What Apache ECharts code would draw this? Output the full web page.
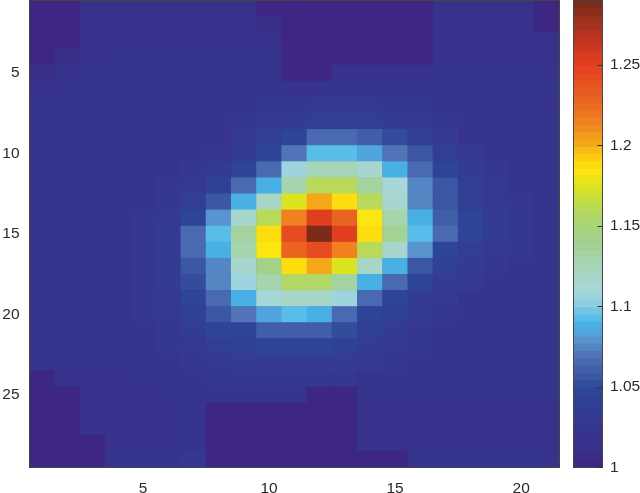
<!DOCTYPE html>
<html>
<head>
<meta charset="utf-8">
<style>
  html, body { margin: 0; padding: 0; background: #fff; }
  #chart { width: 640px; height: 493px; }
</style>
<script src="https://cdn.jsdelivr.net/npm/echarts@6/dist/echarts.min.js"></script>
</head>
<body>
<div id="chart"></div>
<script>
const columns = ["1","2","3","4","5","6","7","8","9","10","11","12","13","14","15","16","17","18","19","20","21"];
const rows = ["1","2","3","4","5","6","7","8","9","10","11","12","13","14","15","16","17","18","19","20","21","22","23","24","25","26","27","28","29"];
const xTickLabels = ["5","10","15","20"];
const yTickLabels = ["5","10","15","20","25"];
const colorbarTicks = [1, 1.05, 1.1, 1.15, 1.2, 1.25];

// one line per image row, top to bottom
const cellValues = [
  [1.002,1.002,1.015,1.015,1.015,1.015,1.015,1.015,1.015,1.004,1.002,1.002,1.002,1.002,1.002,1.002,1.015,1.015,1.015,1.015,1.002],
  [1.002,1.002,1.016,1.016,1.016,1.016,1.016,1.016,1.016,1.012,1.002,1.002,1.002,1.002,1.002,1.002,1.016,1.016,1.016,1.016,1.002],
  [1.002,1.002,1.018,1.018,1.018,1.018,1.018,1.018,1.018,1.018,1.002,1.002,1.002,1.002,1.002,1.002,1.018,1.018,1.018,1.018,1.015],
  [1.002,1.012,1.018,1.020,1.020,1.020,1.020,1.020,1.020,1.020,1.002,1.002,1.002,1.002,1.002,1.002,1.018,1.018,1.018,1.018,1.018],
  [1.012,1.018,1.020,1.020,1.020,1.020,1.020,1.020,1.020,1.020,1.002,1.002,1.020,1.020,1.020,1.020,1.020,1.020,1.020,1.020,1.020],
  [1.018,1.020,1.020,1.020,1.020,1.020,1.020,1.020,1.020,1.020,1.022,1.022,1.022,1.022,1.022,1.022,1.022,1.020,1.020,1.020,1.020],
  [1.020,1.020,1.020,1.020,1.020,1.020,1.020,1.020,1.020,1.024,1.026,1.028,1.028,1.028,1.026,1.024,1.022,1.020,1.020,1.020,1.020],
  [1.022,1.022,1.022,1.022,1.022,1.022,1.022,1.022,1.025,1.030,1.035,1.040,1.040,1.040,1.036,1.030,1.026,1.022,1.022,1.022,1.022],
  [1.022,1.022,1.022,1.022,1.022,1.022,1.022,1.022,1.028,1.038,1.050,1.065,1.068,1.062,1.052,1.040,1.030,1.022,1.022,1.022,1.022],
  [1.022,1.022,1.022,1.022,1.022,1.022,1.022,1.026,1.036,1.050,1.070,1.093,1.093,1.083,1.072,1.055,1.038,1.028,1.022,1.022,1.022],
  [1.022,1.022,1.022,1.022,1.022,1.022,1.025,1.034,1.048,1.068,1.108,1.125,1.125,1.115,1.088,1.068,1.050,1.034,1.026,1.022,1.022],
  [1.022,1.022,1.022,1.022,1.022,1.024,1.030,1.045,1.065,1.090,1.130,1.160,1.160,1.135,1.110,1.075,1.055,1.038,1.028,1.022,1.022],
  [1.022,1.022,1.022,1.022,1.022,1.026,1.038,1.055,1.088,1.120,1.175,1.200,1.190,1.160,1.115,1.077,1.056,1.040,1.030,1.024,1.022],
  [1.022,1.022,1.022,1.022,1.024,1.030,1.050,1.080,1.117,1.162,1.215,1.250,1.230,1.185,1.130,1.088,1.062,1.048,1.032,1.025,1.022],
  [1.022,1.022,1.022,1.022,1.026,1.036,1.065,1.092,1.135,1.190,1.245,1.288,1.250,1.190,1.140,1.092,1.065,1.050,1.034,1.026,1.022],
  [1.022,1.022,1.022,1.022,1.026,1.036,1.065,1.090,1.130,1.185,1.230,1.245,1.215,1.162,1.117,1.078,1.050,1.040,1.030,1.024,1.022],
  [1.022,1.022,1.022,1.022,1.024,1.034,1.055,1.077,1.115,1.145,1.190,1.200,1.175,1.120,1.088,1.055,1.045,1.034,1.026,1.022,1.022],
  [1.022,1.022,1.022,1.022,1.024,1.032,1.052,1.073,1.107,1.128,1.158,1.158,1.135,1.090,1.065,1.047,1.036,1.028,1.022,1.022,1.022],
  [1.022,1.022,1.022,1.022,1.024,1.030,1.050,1.068,1.088,1.110,1.122,1.122,1.107,1.068,1.048,1.036,1.028,1.022,1.022,1.022,1.022],
  [1.022,1.022,1.022,1.022,1.024,1.028,1.045,1.057,1.072,1.083,1.092,1.089,1.068,1.050,1.044,1.032,1.025,1.022,1.022,1.022,1.022],
  [1.022,1.022,1.022,1.022,1.022,1.026,1.036,1.047,1.050,1.060,1.062,1.062,1.052,1.045,1.034,1.026,1.022,1.022,1.022,1.022,1.022],
  [1.022,1.022,1.022,1.022,1.022,1.024,1.030,1.038,1.044,1.047,1.047,1.047,1.044,1.036,1.028,1.024,1.022,1.022,1.022,1.022,1.022],
  [1.022,1.022,1.022,1.022,1.022,1.022,1.026,1.030,1.036,1.036,1.036,1.036,1.036,1.030,1.024,1.022,1.020,1.020,1.020,1.020,1.020],
  [1.002,1.016,1.016,1.018,1.020,1.020,1.020,1.026,1.026,1.026,1.026,1.026,1.026,1.022,1.022,1.020,1.020,1.020,1.020,1.020,1.020],
  [1.002,1.002,1.016,1.018,1.018,1.020,1.020,1.020,1.020,1.020,1.020,1.002,1.002,1.020,1.020,1.020,1.020,1.020,1.020,1.020,1.020],
  [1.002,1.002,1.016,1.018,1.018,1.018,1.020,1.002,1.002,1.002,1.002,1.002,1.002,1.018,1.018,1.018,1.018,1.018,1.018,1.018,1.018],
  [1.002,1.002,1.016,1.018,1.018,1.018,1.020,1.002,1.002,1.002,1.002,1.002,1.002,1.018,1.018,1.018,1.018,1.018,1.018,1.018,1.018],
  [1.002,1.002,1.002,1.018,1.018,1.018,1.022,1.002,1.002,1.002,1.002,1.002,1.002,1.018,1.018,1.018,1.018,1.018,1.018,1.018,1.018],
  [1.002,1.002,1.002,1.020,1.020,1.020,1.024,1.002,1.002,1.002,1.002,1.002,1.002,1.002,1.002,1.020,1.020,1.020,1.020,1.020,1.020],
];

// colorbar steps, bottom to top
const colorbarLevels = [
  1.002,1.007,1.011,1.016,1.020,1.025,1.029,1.034,1.038,1.043,1.048,1.052,1.057,1.061,1.066,1.070,
  1.075,1.079,1.084,1.088,1.093,1.097,1.102,1.107,1.111,1.116,1.120,1.125,1.129,1.134,1.138,1.143,
  1.147,1.152,1.156,1.161,1.166,1.170,1.175,1.179,1.184,1.188,1.193,1.197,1.202,1.206,1.211,1.215,
  1.220,1.225,1.229,1.234,1.238,1.243,1.247,1.252,1.256,1.261,1.265,1.270,1.275,1.279,1.284,1.288,
];

const rampStops = [
  [1.000, "#3e2682"], [1.006, "#3d2a84"], [1.012, "#38308a"], [1.030, "#353a91"],
  [1.048, "#2e4497"], [1.060, "#3f5ca6"], [1.070, "#5074b6"], [1.080, "#5a98d2"],
  [1.090, "#45b6ea"], [1.100, "#86cde2"], [1.110, "#a8d7dc"], [1.125, "#a6d5b8"],
  [1.145, "#a2d182"], [1.160, "#b6d95c"], [1.175, "#dce31f"], [1.185, "#ffe60f"],
  [1.192, "#fdd010"], [1.202, "#f5a718"], [1.215, "#f08020"], [1.232, "#e85e20"],
  [1.250, "#e63f20"], [1.268, "#bb3220"], [1.280, "#98301b"], [1.290, "#762a18"],
];

const hexToRgb = (hex) => [1, 3, 5].map((i) => parseInt(hex.slice(i, i + 2), 16));

const colorAt = (value) => {
  let i = 0;
  while (i < rampStops.length - 2 && value > rampStops[i + 1][0]) i++;
  const [v0, c0] = rampStops[i];
  const [v1, c1] = rampStops[i + 1];
  const t = (value - v0) / (v1 - v0);
  const a = hexToRgb(c0);
  const b = hexToRgb(c1);
  return `rgb(${a.map((x, k) => Math.round(x + (b[k] - x) * t)).join(",")})`;
};

const pieces = colorbarLevels.map((level, i) => ({
  min: i === 0 ? 0.9 : (colorbarLevels[i - 1] + level) / 2,
  max: i === colorbarLevels.length - 1 ? 1.4 : (level + colorbarLevels[i + 1]) / 2,
  color: colorAt(level),
}));

const heatData = [];
cellValues.forEach((line, r) => line.forEach((v, c) => heatData.push([c, r, v])));
const colorbarData = colorbarLevels.map((level, i) => [0, i, level]);

const textColor = "#2a2a2a";
const labelSize = 15.5;
const frame = { lineStyle: { color: "#444", width: 1 } };
const tick = { inside: true, length: 5, alignWithLabel: true, lineStyle: { color: "#333", width: 1 } };
const showX = (i) => xTickLabels.includes(columns[i]);
const showY = (i) => yTickLabels.includes(rows[i]);

const chart = echarts.init(document.getElementById("chart"), null, { renderer: "canvas" });
chart.setOption({
  animation: false,
  backgroundColor: "#fff",
  textStyle: { fontFamily: "Liberation Sans" },
  // dark backing so the hairlines between cells don't show up white
  // outerBoundsMode none: otherwise echarts shrinks the grid to keep the labels on the canvas
  grid: [
    { left: 29.5, top: 0.5, width: 529.5, height: 467, outerBoundsMode: "none", show: true, backgroundColor: "#36378f", borderWidth: 0 },
    { left: 573.5, top: 0.5, width: 29, height: 467, outerBoundsMode: "none", show: true, backgroundColor: "#5a7ab8", borderWidth: 0 },
  ],
  xAxis: [
    {
      type: "category", gridIndex: 0, data: columns, position: "bottom", z: 5,
      axisLine: frame,
      axisTick: { ...tick, interval: showX },
      axisLabel: { interval: showX, color: textColor, fontSize: labelSize, margin: 13 },
    },
    {
      type: "category", gridIndex: 0, data: columns, position: "top", z: 5,
      axisLine: frame,
      axisTick: { ...tick, interval: showX },
      axisLabel: { show: false },
    },
    {
      type: "category", gridIndex: 1, data: [""], position: "bottom", z: 5,
      axisLine: frame, axisTick: { show: false }, axisLabel: { show: false },
    },
    {
      type: "category", gridIndex: 1, data: [""], position: "top", z: 5,
      axisLine: frame, axisTick: { show: false }, axisLabel: { show: false },
    },
  ],
  yAxis: [
    {
      type: "category", gridIndex: 0, data: rows, inverse: true, position: "left", z: 5,
      axisLine: frame,
      axisTick: { ...tick, interval: showY },
      axisLabel: { interval: showY, color: textColor, fontSize: labelSize, margin: 10, padding: [4, 0, 0, 0] },
    },
    {
      type: "category", gridIndex: 0, data: rows, inverse: true, position: "right", z: 5,
      axisLine: frame,
      axisTick: { ...tick, interval: showY },
      axisLabel: { show: false },
    },
    {
      type: "category", gridIndex: 1, data: colorbarLevels.map(String), position: "left", z: 5,
      axisLine: frame, axisTick: { show: false }, axisLabel: { show: false },
    },
    {
      type: "value", gridIndex: 1, min: 1, max: 1.29, position: "right", z: 5,
      splitLine: { show: false },
      axisLine: { show: true, ...frame },
      axisTick: { show: true, inside: true, length: 5, customValues: colorbarTicks, lineStyle: { color: "#333", width: 1 } },
      axisLabel: { customValues: colorbarTicks, color: textColor, fontSize: labelSize, margin: 7.5, padding: [4, 0, 0, 0], formatter: (v) => String(v) },
    },
  ],
  visualMap: {
    type: "piecewise", show: false, dimension: 2, seriesIndex: [0, 1], pieces,
  },
  series: [
    { type: "heatmap", xAxisIndex: 0, yAxisIndex: 0, data: heatData, progressive: 0 },
    { type: "heatmap", xAxisIndex: 2, yAxisIndex: 2, data: colorbarData, progressive: 0 },
  ],
});
</script>
</body>
</html>
